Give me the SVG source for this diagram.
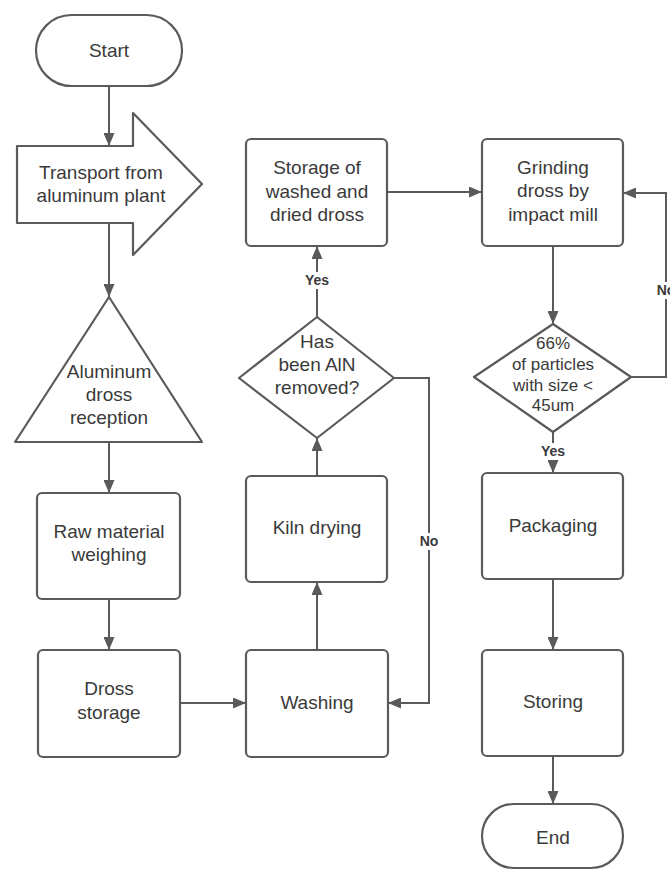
<svg xmlns="http://www.w3.org/2000/svg" width="670" height="873" viewBox="0 0 670 873">
<defs>
<style>
.n{fill:#fff;stroke:#5a5a5a;stroke-width:2.2;stroke-linejoin:round}
.t{font-family:"Liberation Sans",Arial,sans-serif;font-size:19px;fill:#3a3a3a;text-anchor:middle}
.s{font-size:17px}
.c{fill:none;stroke:#5a5a5a;stroke-width:2}
.l{font-family:"Liberation Sans",Arial,sans-serif;font-size:14px;font-weight:bold;fill:#3a3a3a;text-anchor:middle}
.bg{fill:#fff}
</style>
<marker id="a" markerUnits="userSpaceOnUse" markerWidth="13" markerHeight="11" refX="13" refY="5.5" orient="auto">
<path d="M0,0 L13,5.5 L0,11 Z" fill="#5a5a5a"/>
</marker>
</defs>
<rect width="670" height="873" fill="#fff"/>
<g id="connectors">
<path class="c" d="M109,86 L109,146" marker-end="url(#a)"/>
<path class="c" d="M109,223 L109,297" marker-end="url(#a)"/>
<path class="c" d="M109,442 L109,493" marker-end="url(#a)"/>
<path class="c" d="M109,599 L109,650" marker-end="url(#a)"/>
<path class="c" d="M180,703 L246,703" marker-end="url(#a)"/>
<path class="c" d="M317,650 L317,582" marker-end="url(#a)"/>
<path class="c" d="M317,476 L317,438" marker-end="url(#a)"/>
<path class="c" d="M317,317 L317,246" marker-end="url(#a)"/>
<path class="c" d="M394,378 L429,378 L429,703 L388,703" marker-end="url(#a)"/>
<path class="c" d="M387,192 L482,192" marker-end="url(#a)"/>
<path class="c" d="M553,246 L553,324" marker-end="url(#a)"/>
<path class="c" d="M631,377 L666,377 L666,193 L623,193" marker-end="url(#a)"/>
<path class="c" d="M553,432 L553,473" marker-end="url(#a)"/>
<path class="c" d="M553,579 L553,650" marker-end="url(#a)"/>
<path class="c" d="M553,756 L553,804" marker-end="url(#a)"/>
<rect class="bg" x="301" y="272" width="32" height="17"/>
<text class="l" x="317" y="285">Yes</text>
<rect class="bg" x="416" y="533" width="26" height="17"/>
<text class="l" x="429" y="546">No</text>
<rect class="bg" x="653" y="282" width="26" height="17"/>
<text class="l" x="666" y="295">No</text>
<rect class="bg" x="537" y="443" width="32" height="17"/>
<text class="l" x="553" y="456">Yes</text>
</g>
<g id="start">
<rect class="n" x="36" y="15" width="146" height="71" rx="35.5"/>
<text class="t" x="109" y="57">Start</text>
</g>
<g id="transport">
<path class="n" d="M17,146 L133,146 L133,113 L202,184 L133,255 L133,223 L17,223 Z"/>
<text class="t" x="101" y="179">Transport from</text>
<text class="t" x="101" y="202">aluminum plant</text>
</g>
<g id="reception">
<path class="n" d="M109,297 L202,442 L15,442 Z"/>
<text class="t" x="109" y="378">Aluminum</text>
<text class="t" x="109" y="401">dross</text>
<text class="t" x="109" y="424">reception</text>
</g>
<g id="weighing">
<rect class="n" x="37" y="493" width="143" height="106" rx="5"/>
<text class="t" x="109" y="538">Raw material</text>
<text class="t" x="109" y="561">weighing</text>
</g>
<g id="dross-storage">
<rect class="n" x="38" y="650" width="142" height="107" rx="5"/>
<text class="t" x="109" y="695">Dross</text>
<text class="t" x="109" y="719">storage</text>
</g>
<g id="washing">
<rect class="n" x="246" y="650" width="142" height="107" rx="5"/>
<text class="t" x="317" y="709">Washing</text>
</g>
<g id="kiln">
<rect class="n" x="246" y="476" width="141" height="106" rx="5"/>
<text class="t" x="317" y="534">Kiln drying</text>
</g>
<g id="aln-decision">
<path class="n" d="M317,317 L394,378 L317,438 L239,378 Z"/>
<text class="t" x="317" y="348">Has</text>
<text class="t" x="317" y="371">been AlN</text>
<text class="t" x="317" y="394">removed?</text>
</g>
<g id="washed-storage">
<rect class="n" x="246" y="139" width="141" height="107" rx="5"/>
<text class="t" x="317" y="174">Storage of</text>
<text class="t" x="317" y="198">washed and</text>
<text class="t" x="317" y="221">dried dross</text>
</g>
<g id="grinding">
<rect class="n" x="482" y="139" width="141" height="107" rx="5"/>
<text class="t" x="553" y="174">Grinding</text>
<text class="t" x="553" y="197">dross by</text>
<text class="t" x="553" y="221">impact mill</text>
</g>
<g id="size-decision">
<path class="n" d="M553,324 L631,377 L553,432 L474,377 Z"/>
<text class="t s" x="553" y="349">66%</text>
<text class="t s" x="553" y="370">of particles</text>
<text class="t s" x="553" y="391">with size &lt;</text>
<text class="t s" x="553" y="411">45um</text>
</g>
<g id="packaging">
<rect class="n" x="482" y="473" width="141" height="106" rx="5"/>
<text class="t" x="553" y="532">Packaging</text>
</g>
<g id="storing">
<rect class="n" x="482" y="650" width="141" height="106" rx="5"/>
<text class="t" x="553" y="708">Storing</text>
</g>
<g id="end">
<rect class="n" x="482" y="804" width="141" height="64" rx="32"/>
<text class="t" x="553" y="844">End</text>
</g>
</svg>
